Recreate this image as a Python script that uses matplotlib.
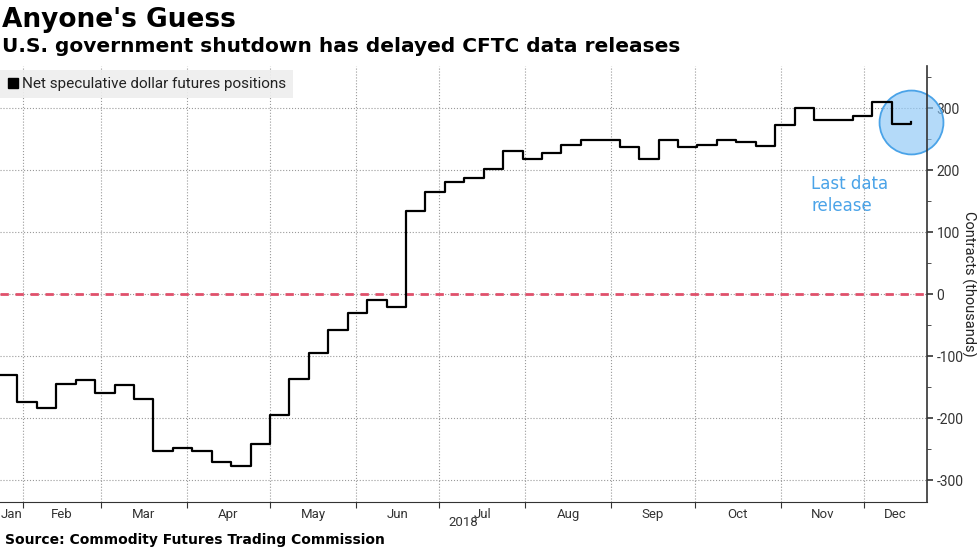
import matplotlib
matplotlib.use("Agg")
import matplotlib.pyplot as plt
from matplotlib.lines import Line2D
import pandas as pd

plt.rcParams['axes.unicode_minus'] = False

# Weekly CFTC readings (Tuesdays), thousands of contracts
week_start = '2018-01-23'
net_positions = [-130, -174, -183, -145, -139, -160, -146, -169, -253, -248,
                 -252, -271, -277, -241, -194, -137, -94, -57, -31, -10,
                 -20, 135, 165, 181, 188, 202, 231, 218, 227, 241,
                 248, 248, 237, 218, 249, 237, 241, 249, 245, 239,
                 273, 300, 281, 281, 287, 310, 275, 277]
dates = pd.date_range(week_start, periods=len(net_positions), freq='7D')

x_start = pd.Timestamp('2018-01-23 17:00')
x_end = pd.Timestamp('2018-12-23 17:00')
month_names = ['Jan', 'Feb', 'Mar', 'Apr', 'May', 'Jun', 'Jul', 'Aug', 'Sep', 'Oct', 'Nov', 'Dec']
y_ticks = [-300, -200, -100, 0, 100, 200, 300]

fig = plt.figure(figsize=(9.77, 5.49), dpi=100)
ax = fig.add_axes([0, 0.0856, 0.9488, 0.7942])

ax.plot(dates, net_positions, color='black', lw=1.6, drawstyle='steps-post', zorder=4)

# highlight on the last release
ax.plot(dates[-1], net_positions[-1], marker='o', ms=46, mfc=(0.55, 0.78, 0.97, 0.65),
        mec='#4aa3e8', mew=1.3, clip_on=False, zorder=2.4)
ax.text(pd.Timestamp('2018-11-12'), 160, 'Last data\nrelease', color='#4aa3e8',
        fontsize=12, va='center', ha='left', linespacing=1.25)

ax.axhline(0, color='#e0506b', lw=2, dashes=(3, 2.4), zorder=2)

# axes limits and ticks
ax.set_xlim(x_start, x_end)
ax.set_ylim(-335, 368)

month_starts = pd.date_range('2018-02-01', '2018-12-01', freq='MS')
ax.set_xticks(month_starts)
ax.set_xticklabels([])
mids = []
for m in range(1, 13):
    a = max(pd.Timestamp(2018, m, 1), x_start)
    b = min(pd.Timestamp(2018, m, 1) + pd.offsets.MonthBegin(1), x_end)
    mids.append(a + (b - a) / 2)
ax.set_xticks(mids, minor=True)
ax.set_xticklabels(month_names, minor=True, family='Roboto')
ax.tick_params(axis='x', which='major', direction='out', length=4, color='#333333')
ax.tick_params(axis='x', which='minor', length=0, labelsize=9.5, colors='#333333', pad=4)

ax.yaxis.tick_right()
ax.set_yticks(y_ticks)
ax.set_yticklabels([str(v) for v in y_ticks], family='Roboto')
ax.set_yticks(range(-300, 351, 50), minor=True)
ax.tick_params(axis='y', which='major', direction='out', length=4, width=1.2,
               labelsize=10, colors='#333333', pad=3)
ax.tick_params(axis='y', which='minor', direction='out', length=3, color='#333333')
ax.yaxis.set_label_position('right')
ax.set_ylabel('Contracts (thousands)', rotation=270, fontsize=10.5, labelpad=9,
              color='#222222', family='Roboto')

ax.grid(True, which='major', color='#9a9a9a', ls=':', lw=0.8)
for s in ['left', 'top']:
    ax.spines[s].set_visible(False)
ax.spines['right'].set_color('#333333')
ax.spines['bottom'].set_color('#333333')
ax.spines['right'].set_linewidth(1.2)

handle = Line2D([0], [0], marker='s', color='black', ls='none', ms=7)
leg = ax.legend([handle], ['Net speculative dollar futures positions'], loc='upper left',
                bbox_to_anchor=(0, 0.99), borderaxespad=0, frameon=True, fancybox=False,
                facecolor='#eeeeee', edgecolor='none', framealpha=0.9,
                handlelength=0.8, handletextpad=0.2, borderpad=0.45,
                prop={'family': 'Roboto', 'size': 11})
leg.get_texts()[0].set_color('#222222')

fig.text(463 / 977, 1 - 523 / 549, '2018', ha='center', va='center', fontsize=9.5,
         color='#333333', family='Roboto')

fig.text(0.002, 1 - 20 / 549, "Anyone's Guess", fontsize=19, fontweight='bold', va='center')
fig.text(0.002, 1 - 47 / 549, 'U.S. government shutdown has delayed CFTC data releases',
         fontsize=14.5, fontweight='bold', va='center')
fig.text(0.005, 1 - 540 / 549, 'Source: Commodity Futures Trading Commission',
         fontsize=10, fontweight='bold', va='center')

fig.savefig('out.png', dpi=100)
